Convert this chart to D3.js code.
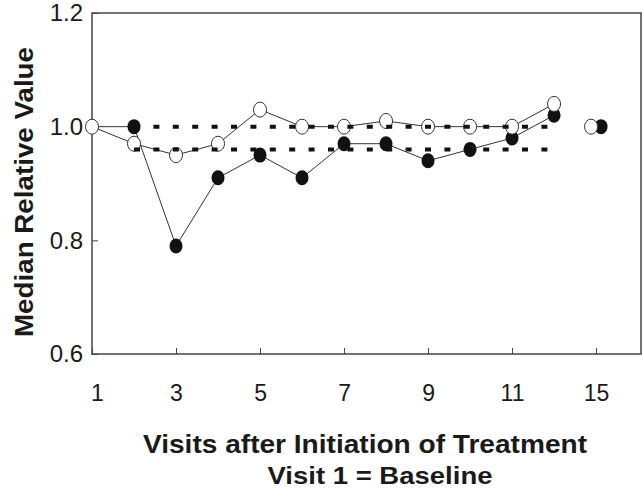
<!DOCTYPE html>
<html>
<head>
<meta charset="utf-8">
<script src="https://cdn.jsdelivr.net/npm/d3@7"></script>
<style>
  body { margin: 0; background: #fff; }
  text { font-family: "Liberation Sans", Arial, sans-serif; fill: #1a1a1a; }
</style>
</head>
<body>
<div id="chart"></div>
<script>
// Chart data
var visits = [1, 2, 3, 4, 5, 6, 7, 8, 9, 10, 11, 12, 15];
// slot on the axis for each visit (15 sits right after 12)
var visitSlots = [1, 2, 3, 4, 5, 6, 7, 8, 9, 10, 11, 12, 13];
var openValues = [1.00, 0.97, 0.95, 0.97, 1.03, 1.00, 1.00, 1.01, 1.00, 1.00, 1.00, 1.04, 1.00];
var filledValues = [1.00, 1.00, 0.79, 0.91, 0.95, 0.91, 0.97, 0.97, 0.94, 0.96, 0.98, 1.02, 1.00];
var lastTreatmentVisit = 12;

var refLevels = [1.00, 0.96];
var refFrom = 2, refTo = 11.85;

var xTickVisits = [1, 3, 5, 7, 9, 11, 15];
var xTickLabels = ["1", "3", "5", "7", "9", "11", "15"];
var yTicks = [0.6, 0.8, 1.0, 1.2];

// Setup
var width = 642, height = 489;
var plotLeft = 92, plotRight = 641, plotTop = 13, plotBottom = 354;

var svg = d3.select("#chart").append("svg")
  .attr("width", width)
  .attr("height", height);

var slotOf = function(v) { return visitSlots[visits.indexOf(v)]; };

var x = d3.scaleLinear().domain([1, 14.07]).range([plotLeft, plotRight]);
var y = d3.scaleLinear().domain([0.6, 1.2]).range([plotBottom, plotTop]);

// axes
var xAxis = d3.axisBottom(x)
  .tickValues(xTickVisits.map(slotOf))
  .tickFormat(function(d, i) { return xTickLabels[i]; })
  .tickSizeInner(-6)
  .tickSizeOuter(0)
  .tickPadding(31);

var gx = svg.append("g")
  .attr("transform", "translate(0," + plotBottom + ")")
  .call(xAxis);
gx.select(".domain").remove();
gx.selectAll("line").attr("stroke", "#444");
gx.selectAll("text").attr("font-size", 23).attr("font-family", null);
gx.selectAll("text").filter(function(d, i) { return i === 0; }).attr("dx", 5);

var yAxis = d3.axisLeft(y)
  .tickValues(yTicks)
  .tickFormat(d3.format(".1f"))
  .tickSizeInner(-6)
  .tickSizeOuter(0)
  .tickPadding(9);

var gy = svg.append("g")
  .attr("transform", "translate(" + plotLeft + ",0)")
  .call(yAxis);
gy.select(".domain").remove();
gy.selectAll("line").attr("stroke", "#444");
gy.selectAll("text").attr("font-size", 24).attr("font-family", null);

// frame
svg.append("rect")
  .attr("x", plotLeft).attr("y", plotTop)
  .attr("width", plotRight - plotLeft).attr("height", plotBottom - plotTop)
  .attr("fill", "none")
  .attr("stroke", "#444")
  .attr("stroke-width", 1.5);

// series lines
var rows = visits.map(function(v, i) {
  return { visit: v, slot: visitSlots[i], open: openValues[i], filled: filledValues[i] };
});
var treat = rows.filter(function(d) { return d.visit <= lastTreatmentVisit; });

var lineOpen = d3.line().x(function(d) { return x(d.slot); }).y(function(d) { return y(d.open); });
var lineFilled = d3.line().x(function(d) { return x(d.slot); }).y(function(d) { return y(d.filled); });

svg.append("path").datum(treat).attr("d", lineFilled)
  .attr("fill", "none").attr("stroke", "#333").attr("stroke-width", 1);
svg.append("path").datum(treat).attr("d", lineOpen)
  .attr("fill", "none").attr("stroke", "#333").attr("stroke-width", 1);

// offset for the follow-up pair so both markers show
var pairShift = function(d) { return d.visit > lastTreatmentVisit ? 5 : 0; };

svg.selectAll(".filled").data(rows.filter(function(d) { return d.visit > 1; }))
  .enter().append("ellipse")
  .attr("class", "filled")
  .attr("cx", function(d) { return x(d.slot) + pairShift(d); })
  .attr("cy", function(d) { return y(d.filled); })
  .attr("rx", 6.5).attr("ry", 7.5)
  .attr("fill", "#111");

svg.selectAll(".open").data(rows)
  .enter().append("ellipse")
  .attr("class", "open")
  .attr("cx", function(d) { return x(d.slot) - pairShift(d); })
  .attr("cy", function(d) { return y(d.open); })
  .attr("rx", 6.5).attr("ry", 7.5)
  .attr("fill", "#fff")
  .attr("stroke", "#333")
  .attr("stroke-width", 1);

// dotted reference lines
svg.selectAll(".ref").data(refLevels)
  .enter().append("line")
  .attr("class", "ref")
  .attr("x1", x(refFrom)).attr("x2", x(refTo))
  .attr("y1", function(d) { return y(d); })
  .attr("y2", function(d) { return y(d); })
  .attr("stroke", "#111")
  .attr("stroke-width", 4)
  .attr("stroke-dasharray", "6,13.4");

// axis titles
svg.append("text")
  .attr("transform", "translate(33," + 192 + ") rotate(-90)")
  .attr("text-anchor", "middle")
  .attr("font-size", 25)
  .attr("font-weight", "bold")
  .attr("textLength", 290)
  .attr("lengthAdjust", "spacingAndGlyphs")
  .text("Median Relative Value");

svg.append("text")
  .attr("x", 365).attr("y", 453)
  .attr("text-anchor", "middle")
  .attr("font-size", 25)
  .attr("font-weight", "bold")
  .attr("textLength", 444)
  .attr("lengthAdjust", "spacingAndGlyphs")
  .text("Visits after Initiation of Treatment");

svg.append("text")
  .attr("x", 380).attr("y", 484)
  .attr("text-anchor", "middle")
  .attr("font-size", 24)
  .attr("font-weight", "bold")
  .attr("textLength", 225)
  .attr("lengthAdjust", "spacingAndGlyphs")
  .text("Visit 1 = Baseline");
</script>
</body>
</html>
